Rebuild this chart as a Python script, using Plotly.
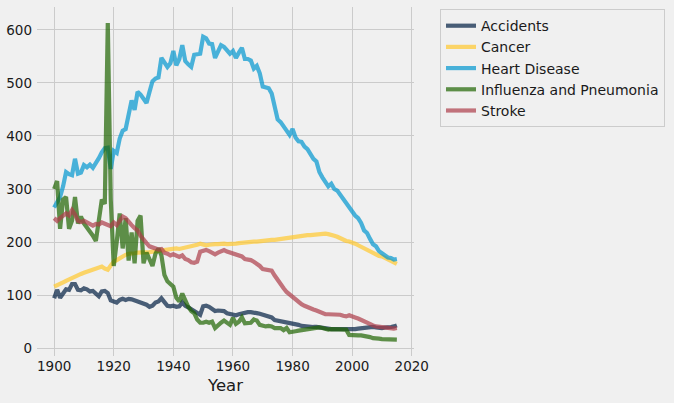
import plotly.graph_objects as go

years = list(range(1900, 2016))

accidents = [
    94, 110, 95, 105, 111, 110, 121, 121, 110, 109,
    113, 111, 107, 108, 102, 98, 107, 108, 104, 90,
    88, 86, 91, 93, 91, 93, 92, 90, 89, 88,
    86, 82, 78, 80, 86, 88, 94, 86, 80, 79,
    80, 78, 79, 86, 80, 77, 73, 70, 66, 63,
    79, 80, 78, 75, 70, 71, 70, 70, 66, 64,
    63, 62, 64, 66, 67, 68, 68, 66, 66, 65,
    63, 61, 60, 58, 53, 52, 50, 50, 50, 49,
    48, 46, 44, 42, 41, 40, 40, 40, 40, 39,
    37, 36, 35, 36, 36, 36, 36, 36, 35, 36,
    35, 36, 37, 38, 38, 39, 40, 40, 39, 38,
    38, 39, 39, 40, 41, 43,
]

cancer = [
    116, 118, 121, 124, 127, 130, 132, 134, 138, 140,
    142, 144, 146, 148, 150, 152, 154, 150, 148, 156,
    163, 166, 170, 174, 176, 178, 178, 179, 180, 180,
    180, 180, 181, 182, 183, 184, 185, 186, 187, 188,
    189, 188, 187, 188, 189, 191, 193, 194, 195, 197,
    195, 194, 195, 196, 196, 196, 197, 197, 196, 196,
    197, 197, 198, 199, 199, 200, 200, 201, 201, 202,
    203, 203, 203, 204, 204, 205, 206, 207, 207, 208,
    209, 209, 210, 211, 212, 213, 213, 214, 214, 215,
    217, 216, 215, 214, 212, 210, 207, 204, 202, 201,
    200, 197, 194, 191, 187, 185, 182, 179, 176, 174,
    173, 170, 167, 165, 162, 159,
]

heart_disease = [
    265, 275, 285, 305, 332, 328, 326, 357, 329, 331,
    345, 341, 346, 340, 348, 358, 369, 377, 378, 338,
    372, 368, 395, 410, 413, 440, 467, 449, 483, 478,
    470, 462, 483, 503, 508, 510, 547, 540, 530, 537,
    560, 533, 545, 571, 541, 535, 530, 553, 555, 555,
    587, 584, 574, 573, 547, 560, 571, 568, 560, 555,
    560, 547, 557, 566, 545, 545, 542, 527, 532, 518,
    493, 492, 490, 480, 458, 431, 426, 416, 410, 402,
    413, 397, 390, 389, 380, 375, 366, 357, 352, 332,
    322, 313, 305, 310, 300, 297, 289, 281, 273, 267,
    258, 250, 245, 236, 222, 217, 206, 196, 192, 183,
    179, 174, 171, 170, 167, 168,
]

influenza_pneumonia = [
    300, 315, 225, 280, 285, 225, 240, 285, 235, 248,
    235, 228, 218, 212, 202, 240, 280, 272, 613, 280,
    155, 200, 254, 188, 245, 165, 218, 160, 240, 250,
    160, 180, 168, 155, 178, 188, 175, 138, 126, 122,
    116, 95, 88, 103, 88, 78, 70, 66, 54, 48,
    48, 50, 48, 50, 38, 44, 48, 52, 48, 44,
    57, 46, 50, 58, 47, 48, 48, 54, 52, 44,
    42, 41, 42, 41, 38, 37, 38, 34, 38, 30,
    32, 32, 33, 34, 35, 36, 37, 38, 38, 39,
    38, 36, 35, 36, 36, 36, 36, 35, 35, 25,
    24, 24, 24, 24, 23, 23, 21, 19, 19, 18,
    17, 17, 16, 16, 16, 16,
]

stroke = [
    245, 240, 245, 250, 254, 250, 260, 252, 240, 238,
    240, 237, 233, 231, 234, 233, 237, 235, 231, 230,
    237, 232, 240, 248, 245, 237, 232, 226, 222, 212,
    204, 198, 192, 190, 187, 186, 187, 180, 178, 175,
    177, 174, 172, 175, 168, 166, 162, 161, 163, 182,
    183, 185, 183, 181, 177, 180, 183, 185, 182, 180,
    178, 175, 174, 173, 168, 167, 166, 163, 160, 155,
    149, 148, 148, 146, 137, 128, 120, 113, 106, 101,
    97, 91, 86, 83, 80, 77, 75, 73, 71, 68,
    66, 64, 64, 64, 64, 64, 63, 61, 60, 62,
    61, 58, 56, 53, 51, 48, 45, 43, 41, 40,
    39, 38, 38, 37, 37, 38,
]

series_names = ["Accidents", "Cancer", "Heart Disease", "Influenza and Pneumonia", "Stroke"]
series_values = [accidents, cancer, heart_disease, influenza_pneumonia, stroke]
series_colors = [
    "rgba(0,30,66,0.7)",
    "rgba(255,200,44,0.7)",
    "rgba(0,150,207,0.7)",
    "rgba(30,100,0,0.7)",
    "rgba(172,60,72,0.7)",
]

x_ticks = [1900, 1920, 1940, 1960, 1980, 2000, 2020]
y_ticks = [0, 100, 200, 300, 400, 500, 600]

fig = go.Figure()
for name, vals, col in zip(series_names, series_values, series_colors):
    fig.add_trace(go.Scatter(x=years, y=vals, mode="lines", name=name,
                             line=dict(color=col, width=4.2)))

grid = "#cbcbcb"
fig.update_layout(
    width=674, height=403,
    paper_bgcolor="#f0f0f0", plot_bgcolor="#f0f0f0",
    margin=dict(l=37, r=260, t=7, b=47),
    font=dict(family="DejaVu Sans", size=14, color="#1a1a1a"),
    showlegend=True,
    legend=dict(x=1.069, y=0.994, xanchor="left", yanchor="top",
                bgcolor="#f0f0f0", bordercolor="#cccccc", borderwidth=1,
                font=dict(size=14)),
    xaxis=dict(range=[1894.25, 2020.75], tickvals=x_ticks, showgrid=True,
               gridcolor=grid, gridwidth=1, zeroline=False, showline=False,
               ticks="", tickfont=dict(size=13.5),
               title=dict(text="Year", font=dict(size=16.5), standoff=6)),
    yaxis=dict(range=[-14.7, 643], tickvals=y_ticks, showgrid=True,
               gridcolor=grid, gridwidth=1, zeroline=False, showline=False,
               ticks="", tickfont=dict(size=13.5), ticklabelstandoff=4),
)

fig.write_html(
    "out.html",
    config={"displayModeBar": False},
    post_script="document.body.style.margin='0';document.body.style.background='#f0f0f0';",
)
